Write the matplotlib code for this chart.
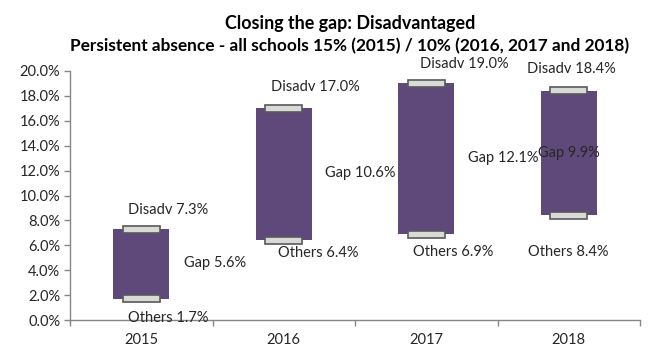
import matplotlib
matplotlib.use("Agg")
import matplotlib.pyplot as plt
import numpy as np
from matplotlib.ticker import FuncFormatter, FixedLocator

years = ["2015", "2016", "2017", "2018"]
disadv = [7.3, 17.0, 19.0, 18.4]
others = [1.7, 6.4, 6.9, 8.4]
gap = [5.6, 10.6, 12.1, 9.9]

# label placement (x offset from category centre, y in %), as laid out in the original
disadv_pos = [(0.19, 8.8), (0.22, 18.7), (0.27, 20.6), (0.02, 20.2)]
others_pos = [(0.19, 0.2), (0.24, 5.4), (0.19, 5.5), (0.0, 5.5)]
gap_pos = [(0.52, 4.6), (0.54, 11.8), (0.54, 13.0), (0.0, 13.4)]

PURPLE = "#5F497A"
CAP_FILL = "#D9D9D9"
CAP_EDGE = "#595959"
AXIS = "#868686"

plt.rcParams["font.family"] = ["Lato", "DejaVu Sans"]

fig = plt.figure(figsize=(6.48, 3.51), dpi=100)
ax = fig.add_axes([70 / 648, 31 / 351, 570 / 648, 249 / 351])

x = np.arange(len(years))
lo = np.array(others)
hi = np.array(disadv)

ax.bar(x, hi - lo, bottom=lo, width=0.39, color=PURPLE, zorder=2)

cap_h = 0.55
for vals in (hi, lo):
    ax.bar(x, cap_h, bottom=vals - cap_h / 2, width=0.26, color=CAP_FILL,
           edgecolor=CAP_EDGE, linewidth=1.2, zorder=3)

fs = 10.5
for i in range(len(years)):
    dx, dy = disadv_pos[i]
    ax.text(x[i] + dx, dy, f"Disadv {disadv[i]:.1f}%", ha="center", va="center",
            fontsize=fs, color="#262626", zorder=4)
    dx, dy = others_pos[i]
    ax.text(x[i] + dx, dy, f"Others {others[i]:.1f}%", ha="center", va="center",
            fontsize=fs, color="#262626", zorder=4)
    dx, dy = gap_pos[i]
    ax.text(x[i] + dx, dy, f"Gap {gap[i]:.1f}%", ha="center", va="center",
            fontsize=fs, color="#262626", zorder=4)

ax.set_xlim(-0.5, len(years) - 0.5)
ax.set_ylim(0, 20)
ax.set_yticks(np.arange(0, 20.1, 2))
ax.yaxis.set_major_formatter(FuncFormatter(lambda v, _: f"{v:.1f}%"))
ax.set_xticks(x)
ax.set_xticklabels(years)
ax.xaxis.set_minor_locator(FixedLocator(np.arange(-0.5, len(years), 1.0)))

for side in ("top", "right"):
    ax.spines[side].set_visible(False)
for side in ("left", "bottom"):
    ax.spines[side].set_color(AXIS)
    ax.spines[side].set_linewidth(1.0)

ax.tick_params(axis="y", length=4, width=1, color=AXIS, pad=3,
               labelsize=fs, labelcolor="#262626")
ax.tick_params(axis="x", which="major", length=0, pad=9,
               labelsize=fs, labelcolor="#262626")
ax.tick_params(axis="x", which="minor", length=4, width=1, color=AXIS)

fig.text(0.540, 0.934, "Closing the gap: Disadvantaged", ha="center", va="center",
         fontsize=12.9, fontweight="bold", color="black")
fig.text(0.540, 0.870,
         "Persistent absence - all schools 15% (2015) / 10% (2016, 2017 and 2018)",
         ha="center", va="center", fontsize=12.4, fontweight="bold", color="black")

fig.savefig("out.png", dpi=100)
